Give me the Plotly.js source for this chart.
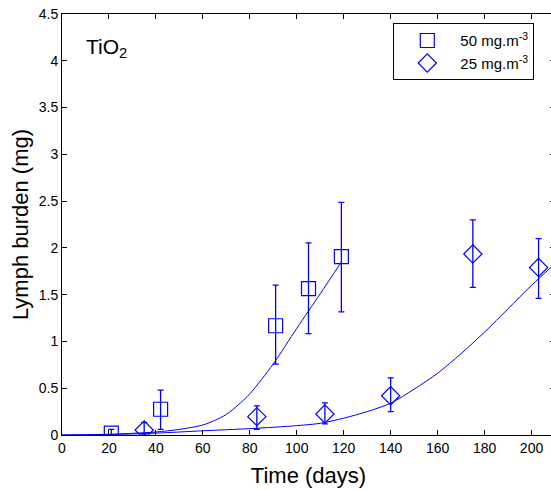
<!DOCTYPE html>
<html>
<head>
<meta charset="utf-8">
<script src="https://cdn.plot.ly/plotly-3.0.1.min.js"></script>
<style>
html,body{margin:0;padding:0;overflow:hidden;background:#fff;}
#chart{width:555px;height:490px;}
</style>
</head>
<body>
<div id="chart"></div>
<script>
// Measured data, 50 mg.m-3 (squares)
const days50 = [21, 42, 91, 105, 119];
const burden50 = [0.02, 0.275, 1.168, 1.564, 1.906];
const errPlus50 = [0.04, 0.205, 0.435, 0.49, 0.58];
const errMinus50 = [0.02, 0.215, 0.41, 0.48, 0.59];

// Measured data, 25 mg.m-3 (diamonds)
const days25 = [35, 83, 112, 140, 175, 203];
const burden25 = [0.053, 0.196, 0.224, 0.42, 1.935, 1.79];
const errPlus25 = [0.08, 0.115, 0.12, 0.19, 0.365, 0.31];
const errMinus25 = [0.053, 0.135, 0.106, 0.17, 0.357, 0.33];

// Model fit curves
const fitDays50 = [0, 10, 20, 30, 40, 50, 60, 65, 70, 75, 80, 90, 100, 110, 119];
const fitBurden50 = [0, 0.003, 0.008, 0.018, 0.032, 0.06, 0.107, 0.155, 0.22, 0.32, 0.44, 0.76, 1.14, 1.51, 1.85];
const fitDays25 = [0, 20, 40, 60, 80, 100, 110, 120, 130, 140, 150, 160, 170, 180, 190, 200, 210];
const fitBurden25 = [0, 0.005, 0.02, 0.045, 0.068, 0.1, 0.125, 0.18, 0.25, 0.34, 0.49, 0.66, 0.87, 1.1, 1.35, 1.6, 1.83];

const xTicks = [0, 20, 40, 60, 80, 100, 120, 140, 160, 180, 200];
const yTicks = [0, 0.5, 1, 1.5, 2, 2.5, 3, 3.5, 4, 4.5];
const yTickText = ['0', '0.5', '1', '1.5', '2', '2.5', '3', '3.5', '4', '4.5'];

const BLUE = '#0000ff';
const FONT = 'Arial, "Liberation Sans", sans-serif';

const traces = [
  {
    x: fitDays50, y: fitBurden50, mode: 'lines', type: 'scatter',
    line: {color: BLUE, width: 1, shape: 'spline', smoothing: 0.8}, showlegend: false, hoverinfo: 'skip'
  },
  {
    x: fitDays25, y: fitBurden25, mode: 'lines', type: 'scatter',
    line: {color: BLUE, width: 1, shape: 'spline', smoothing: 0.8}, showlegend: false, hoverinfo: 'skip'
  },
  {
    x: days50, y: burden50, mode: 'markers', type: 'scatter',
    name: '50 mg.m<sup>-3</sup>',
    marker: {symbol: 'square-open', size: 14, color: BLUE, line: {color: BLUE, width: 1.2}},
    error_y: {type: 'data', symmetric: false, array: errPlus50, arrayminus: errMinus50,
              color: BLUE, thickness: 1.3, width: 3}
  },
  {
    x: days25, y: burden25, mode: 'markers', type: 'scatter',
    name: '25 mg.m<sup>-3</sup>',
    marker: {symbol: 'diamond-open', size: 14, color: BLUE, line: {color: BLUE, width: 1.2}},
    error_y: {type: 'data', symmetric: false, array: errPlus25, arrayminus: errMinus25,
              color: BLUE, thickness: 1.3, width: 3}
  }
];

const layout = {
  width: 555, height: 490,
  margin: {l: 62, r: 0, t: 14, b: 55},
  paper_bgcolor: '#fff', plot_bgcolor: '#fff',
  font: {family: FONT, color: '#000', size: 14},
  showlegend: true,
  legend: {
    x: 0.672, y: 0.978, xanchor: 'left', yanchor: 'top',
    bgcolor: '#fff', bordercolor: '#000', borderwidth: 1,
    font: {family: FONT, size: 15, color: '#000'},
    itemwidth: 56, tracegroupgap: 0
  },
  xaxis: {
    range: [0, 210], tickmode: 'array', tickvals: xTicks,
    ticks: 'inside', ticklen: 5, tickcolor: '#000', tickwidth: 1,
    showline: true, linecolor: '#000', linewidth: 1, mirror: 'ticks',
    showgrid: false, zeroline: false,
    tickfont: {family: FONT, size: 14, color: '#000'},
    title: {text: 'Time (days)', font: {family: FONT, size: 22, color: '#000'}, standoff: 12}
  },
  yaxis: {
    range: [0, 4.5], tickmode: 'array', tickvals: yTicks, ticktext: yTickText,
    ticks: 'inside', ticklen: 5, tickcolor: '#000', tickwidth: 1,
    showline: true, linecolor: '#000', linewidth: 1, mirror: 'ticks',
    showgrid: false, zeroline: false,
    tickfont: {family: FONT, size: 14, color: '#000'},
    title: {text: 'Lymph burden (mg)', font: {family: FONT, size: 22, color: '#000'}, standoff: 4}
  },
  annotations: [
    {
      text: 'TiO<sub>2</sub>', xref: 'paper', yref: 'paper',
      x: 0.045, y: 0.92, xanchor: 'left', yanchor: 'middle', showarrow: false,
      font: {family: FONT, size: 21, color: '#000'}
    }
  ]
};

Plotly.newPlot('chart', traces, layout, {displayModeBar: false, staticPlot: true});
</script>
</body>
</html>
